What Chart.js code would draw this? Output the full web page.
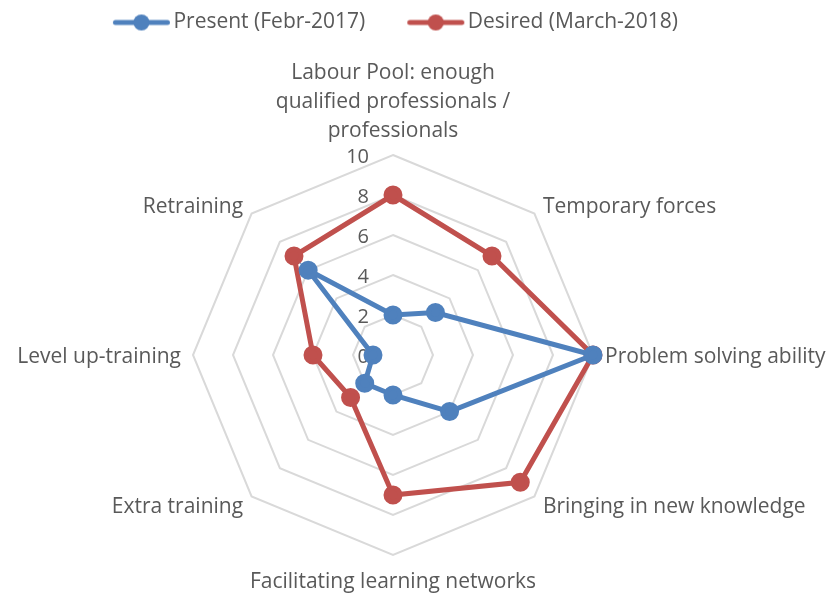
<!DOCTYPE html>
<html>
<head>
<meta charset="utf-8">
<script src="https://cdn.jsdelivr.net/npm/chart.js@4/dist/chart.umd.min.js"></script>
<style>
  body { margin: 0; background: #fff; }
  #wrap { width: 830px; height: 596px; }
</style>
</head>
<body>
<div id="wrap"><canvas id="radar"></canvas></div>
<script>
const categories = [
  ['Labour Pool: enough', 'qualified professionals /', 'professionals'],
  'Temporary forces',
  'Problem solving ability',
  'Bringing in new knowledge',
  'Facilitating learning networks',
  'Extra training',
  'Level up-training',
  'Retraining'
];
const present = [2, 3, 10, 4, 2, 2, 1, 6];
const desired = [8, 7, 10, 9, 7, 3, 4, 7];
const tickValues = [0, 2, 4, 6, 8, 10];

const BLUE = '#4f81bd';
const RED = '#c0504d';
const TEXT = '#595959';
const FONT = '"Open Sans", sans-serif';
const LABEL_SIZE = 21;
const LABEL_LINE = 29;
const LABEL_PAD = 12;
const LEGEND_BOX = 80;

// line with a dot, drawn at the right end of a wide legend box
// (the empty left part gives Excel's wide gap between entries)
function legendIcon(color) {
  const c = document.createElement('canvas');
  c.width = LEGEND_BOX + 24; c.height = 18;
  const g = c.getContext('2d');
  const x1 = 44.5, x2 = 96.5;
  g.strokeStyle = color; g.lineWidth = 5; g.lineCap = 'round';
  g.beginPath(); g.moveTo(x1, 9); g.lineTo(x2, 9); g.stroke();
  g.fillStyle = color;
  g.beginPath(); g.arc((x1 + x2) / 2, 9, 8, 0, Math.PI * 2); g.fill();
  return c;
}

// tick numbers left of the vertical axis + category labels, Excel style
const radarText = {
  id: 'radarText',
  beforeDatasetsDraw(chart) {
    const r = chart.scales.r;
    const ctx = chart.ctx;
    ctx.save();
    ctx.fillStyle = TEXT;

    ctx.font = '20px ' + FONT;
    ctx.textAlign = 'right';
    ctx.textBaseline = 'middle';
    tickValues.forEach(v => {
      const d = r.getDistanceFromCenterForValue(v);
      ctx.fillText(String(v), r.xCenter - 24, r.yCenter - d + 2);
    });

    ctx.font = LABEL_SIZE + 'px ' + FONT;
    categories.forEach((label, i) => {
      const lines = Array.isArray(label) ? label : [label];
      const p = r.getPointPosition(i, r.drawingArea + LABEL_PAD);
      const deg = Math.round(r.getIndexAngle(i) * 180 / Math.PI) % 360;
      let top;
      if (deg === 0) {
        ctx.textAlign = 'center';
        top = p.y - lines.length * LABEL_LINE + 3;
      } else if (deg === 180) {
        ctx.textAlign = 'center';
        top = p.y + 1;
      } else {
        ctx.textAlign = deg < 180 ? 'left' : 'right';
        top = p.y - lines.length * LABEL_LINE / 2 + 2;
      }
      lines.forEach((t, k) => ctx.fillText(t, p.x, top + LABEL_LINE * (k + 0.5)));
    });
    ctx.restore();
  }
};

const radarchart = new Chart(document.getElementById('radar'), {
  type: 'radar',
  data: {
    labels: categories,
    datasets: [{
      label: 'Present (Febr-2017)',
      data: present,
      borderColor: BLUE,
      backgroundColor: BLUE,
      pointBackgroundColor: BLUE,
      borderWidth: 5,
      pointRadius: 7,
      fill: false
    }, {
      label: 'Desired (March-2018)',
      data: desired,
      borderColor: RED,
      backgroundColor: RED,
      pointBackgroundColor: RED,
      borderWidth: 5,
      pointRadius: 7,
      fill: false
    }]
  },
  options: {
    responsive: true,
    maintainAspectRatio: false,
    animation: false,
    layout: { padding: { top: 0, bottom: 0, left: 0, right: 69 } },
    scales: {
      r: {
        min: 0,
        max: 10,
        ticks: { stepSize: 2, display: false },
        grid: { color: '#d9d9d9', lineWidth: 2, circular: false },
        angleLines: { display: false },
        pointLabels: { display: false },
        // plot sits where Excel put it: centre (393, 355), radius 200
        afterFit(scale) {
          scale.xCenter = 393;
          scale.yCenter = 355;
          scale.drawingArea = 200;
        }
      }
    },
    plugins: {
      legend: {
        position: 'top',
        labels: {
          color: TEXT,
          font: { family: FONT, size: LABEL_SIZE },
          usePointStyle: true,
          pointStyleWidth: LEGEND_BOX,
          padding: 12,
          generateLabels(chart) {
            return chart.data.datasets.map((ds, i) => ({
              text: ds.label,
              fontColor: TEXT,
              pointStyle: legendIcon(ds.borderColor),
              strokeStyle: ds.borderColor,
              fillStyle: ds.borderColor,
              lineWidth: 0,
              datasetIndex: i,
              hidden: !chart.isDatasetVisible(i)
            }));
          }
        }
      },
      tooltip: { enabled: false }
    }
  },
  plugins: [radarText]
});
</script>
</body>
</html>
